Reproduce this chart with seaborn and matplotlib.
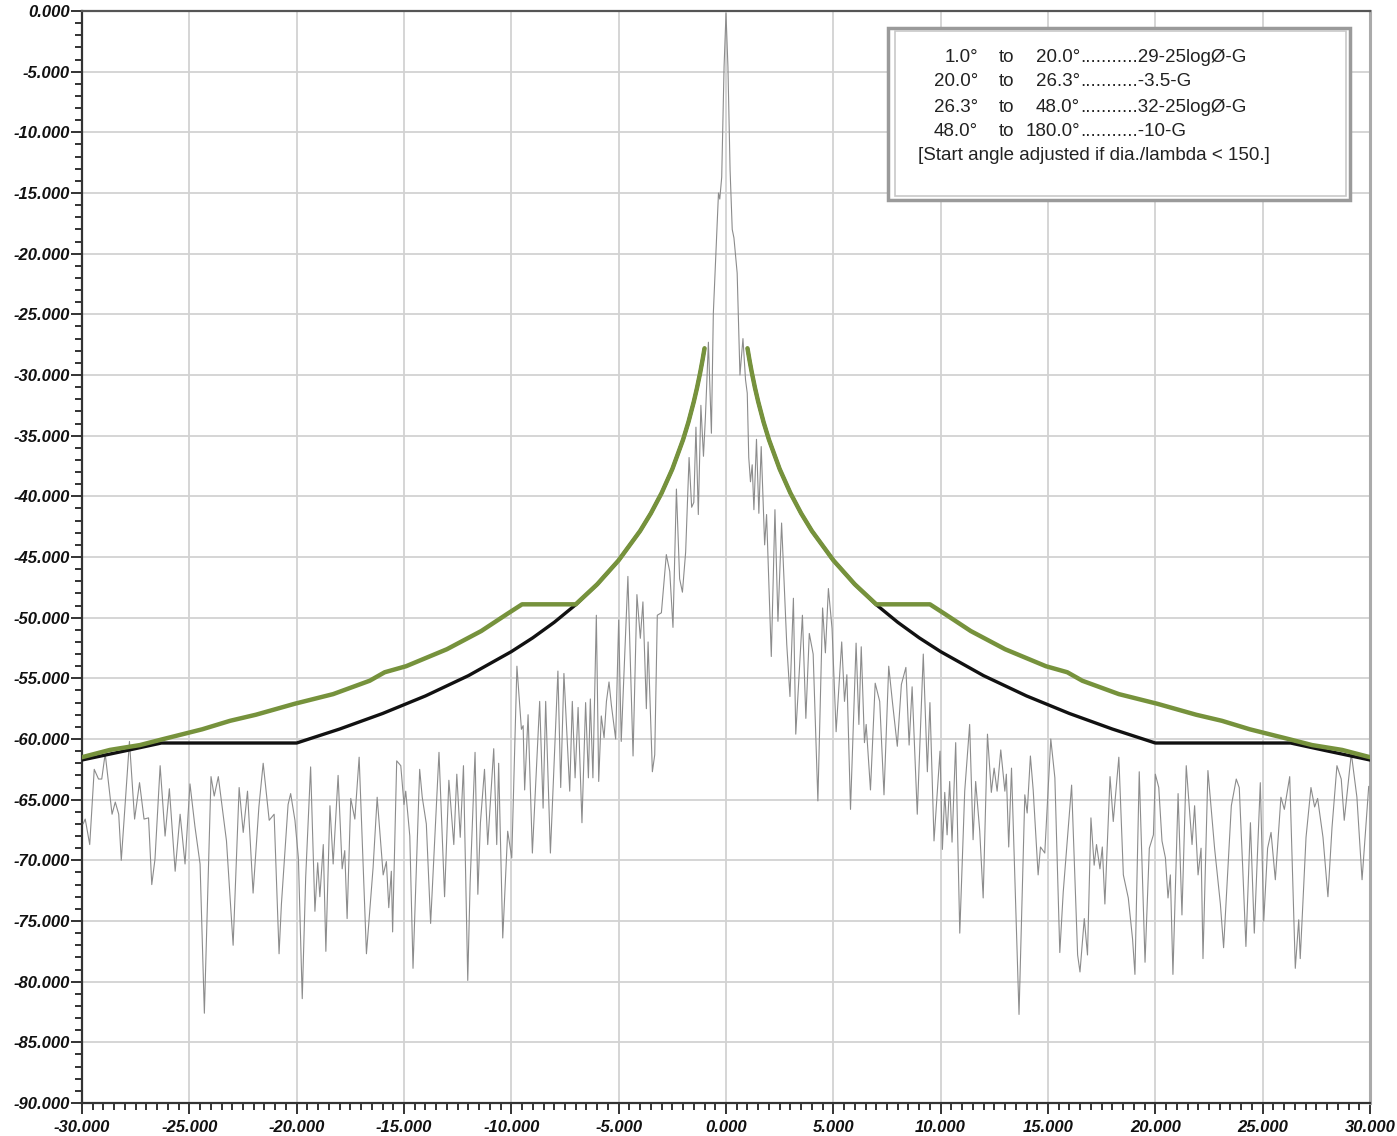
import matplotlib
matplotlib.use("Agg")
import matplotlib.pyplot as plt
from matplotlib.ticker import MultipleLocator, FuncFormatter
from matplotlib.patches import Rectangle
import seaborn as sns
import pandas as pd

# Measured antenna pattern: angle (deg) and relative level (dB)
trace_deg = [
    -29.95, -29.85, -29.64, -29.43, -29.23, -29.08, -28.92, -28.6, -28.45, -28.29,
    -28.17, -27.79, -27.55, -27.32, -27.11, -26.9, -26.75, -26.6, -26.36, -26.13,
    -25.93, -25.66, -25.43, -25.2, -24.97, -24.74, -24.5, -24.3, -23.99, -23.84,
    -23.65, -23.27, -22.96, -22.68, -22.49, -22.29, -22.03, -21.76, -21.56, -21.28,
    -21.05, -20.82, -20.71, -20.4, -20.28, -20.08,
    -19.92, -19.74, -19.58, -19.35, -19.15, -19.02, -18.92, -18.76, -18.64, -18.45,
    -18.30, -18.07, -17.88, -17.76, -17.65, -17.48, -17.29, -17.09, -16.75, -16.44,
    -16.25, -15.97, -15.82, -15.71, -15.59, -15.53, -15.34, -15.15, -15.0, -14.92,
    -14.73, -14.58, -14.27, -14.15, -13.96, -13.76, -13.37, -13.11, -12.91, -12.68,
    -12.54, -12.38, -12.23, -12.03, -11.92, -11.69, -11.56, -11.44, -11.25, -11.1,
    -10.82, -10.68, -10.59, -10.4, -10.17, -9.98,
    -9.74, -9.53, -9.45, -9.38, -9.22, -9.02, -8.68, -8.52, -8.40, -8.18,
    -7.83, -7.70, -7.55, -7.28, -7.16, -7.03, -6.89, -6.71, -6.54, -6.41,
    -6.32, -6.20, -6.04, -5.93, -5.81, -5.68, -5.57, -5.45, -5.34, -5.14,
    -5.0, -4.88, -4.57, -4.33, -4.15, -3.99, -3.87, -3.71, -3.63, -3.43,
    -3.32, -3.20, -3.01, -2.78, -2.62, -2.47, -2.31, -2.16, -2.03, -1.88,
    -1.72, -1.60, -1.50, -1.40, -1.29, -1.17, -1.05, -0.96, -0.82, -0.68,
    -0.59, -0.35, -0.29, -0.20, -0.09, 0.0, 0.09, 0.19, 0.29, 0.37,
    0.52, 0.65, 0.79, 0.91, 0.99,
    1.06, 1.14, 1.22, 1.30, 1.42, 1.53, 1.64, 1.80, 1.89, 2.11,
    2.28, 2.42, 2.59, 2.83, 2.98, 3.14, 3.25, 3.56, 3.72, 3.88,
    4.06, 4.28, 4.50, 4.63, 4.77, 4.94, 5.13, 5.39, 5.52, 5.63,
    5.80, 6.06, 6.19, 6.30, 6.45, 6.53, 6.73, 6.95, 7.16, 7.36,
    7.58, 7.75, 7.98, 8.17, 8.38, 8.53, 8.67, 8.91, 9.19, 9.38,
    9.50, 9.69, 9.97,
    10.08, 10.19, 10.30, 10.42, 10.53, 10.70, 10.89, 11.12, 11.35, 11.51,
    11.63, 11.82, 11.98, 12.18, 12.36, 12.49, 12.63, 12.80, 12.99, 13.06,
    13.17, 13.30, 13.65, 13.92, 14.03, 14.18, 14.31, 14.54, 14.65, 14.85,
    15.13, 15.32, 15.55, 15.71, 16.10, 16.38, 16.49, 16.69, 16.84, 17.0,
    17.15, 17.26, 17.42, 17.53, 17.65, 17.89, 18.04, 18.30, 18.51, 18.74,
    18.94, 19.05, 19.25, 19.52, 19.72, 19.91,
    20.0, 20.16, 20.31, 20.47, 20.59, 20.70, 20.82, 21.06, 21.24, 21.44,
    21.71, 21.83, 21.99, 22.13, 22.22, 22.45, 22.76, 23.03, 23.18, 23.54,
    23.77, 23.91, 24.07, 24.22, 24.43, 24.61, 24.89, 25.05, 25.23, 25.39,
    25.59, 25.85, 26.01, 26.26, 26.52, 26.68, 26.75, 27.02, 27.25, 27.42,
    27.56, 27.81, 28.04, 28.23, 28.46, 28.66, 28.80, 29.13, 29.39, 29.63,
    29.94,
]
trace_db = [
    -67.0, -66.6, -68.7, -62.5, -63.3, -63.3, -61.2, -66.2, -65.2, -66.2,
    -70.0, -60.2, -66.6, -63.6, -66.6, -66.5, -72.0, -69.9, -62.2, -68.0,
    -64.1, -70.9, -66.2, -70.3, -63.7, -67.2, -70.3, -82.6, -63.1, -64.7,
    -63.1, -68.4, -77.0, -64.0, -67.7, -64.3, -72.7, -65.6, -62.0, -66.7,
    -66.2, -77.7, -73.6, -65.4, -64.5, -66.7,
    -69.8, -81.4, -71.4, -62.3, -74.2, -70.2, -73.0, -68.7, -77.5, -65.5,
    -70.3, -63.0, -70.7, -69.2, -74.8, -64.9, -66.6, -61.5, -77.7, -70.6,
    -64.8, -71.2, -70.1, -73.9, -70.9, -75.9, -61.8, -62.2, -65.4, -64.3,
    -68.0, -78.9, -62.5, -64.8, -67.0, -75.2, -61.1, -73.0, -63.4, -68.7,
    -62.9, -68.1, -62.2, -79.9, -71.9, -61.1, -72.8, -66.9, -62.5, -68.7,
    -60.8, -68.7, -62.0, -76.4, -67.6, -69.8,
    -54.0, -59.2, -58.9, -64.2, -58.0, -69.4, -56.9, -65.7, -56.9, -69.4,
    -54.4, -64.0, -54.6, -64.3, -56.9, -63.2, -57.4, -66.9, -57.0, -63.2,
    -56.7, -63.2, -49.8, -63.5, -58.1, -59.9, -56.9, -55.3, -57.2, -60.0,
    -50.2, -60.2, -46.6, -61.4, -48.1, -51.7, -48.7, -57.5, -52.0, -62.7,
    -61.3, -49.8, -49.6, -44.8, -46.2, -50.8, -39.4, -46.8, -47.9, -44.6,
    -36.8, -40.9, -40.5, -34.3, -41.5, -32.5, -36.7, -33.5, -27.3, -34.8,
    -24.9, -15.0, -15.5, -13.7, -4.6, -0.2, -4.6, -13.1, -18.0, -18.7,
    -21.6, -30.0, -27.0, -30.4, -31.5,
    -36.8, -38.8, -37.4, -41.1, -35.3, -41.4, -35.9, -44.0, -41.5, -53.2,
    -41.1, -50.3, -42.2, -52.2, -56.5, -48.4, -59.6, -49.8, -58.3, -51.3,
    -53.0, -65.1, -49.2, -52.9, -47.6, -50.9, -59.4, -52.0, -56.9, -54.7,
    -65.8, -52.1, -58.8, -52.4, -60.3, -58.8, -64.2, -55.4, -56.9, -64.6,
    -54.0, -56.9, -60.6, -55.5, -54.1, -60.5, -55.7, -66.2, -53.0, -62.7,
    -57.0, -68.4, -61.0,
    -69.1, -64.4, -67.9, -63.5, -68.5, -60.3, -76.0, -64.3, -58.8, -68.3,
    -63.5, -67.6, -73.1, -59.6, -64.4, -62.4, -64.3, -60.9, -64.3, -62.9,
    -68.9, -62.4, -82.7, -64.6, -66.1, -61.4, -64.2, -71.2, -68.9, -69.4,
    -60.0, -63.2, -77.6, -72.6, -63.8, -77.8, -79.2, -74.8, -77.8, -66.5,
    -70.4, -68.7, -70.7, -68.9, -73.6, -63.1, -66.8, -61.5, -71.2, -73.1,
    -76.5, -79.4, -62.7, -78.4, -69.0, -67.9,
    -62.9, -64.0, -68.4, -69.8, -73.1, -71.2, -79.4, -64.5, -74.5, -62.2,
    -68.7, -65.5, -71.2, -69.0, -78.1, -62.6, -69.0, -73.6, -77.2, -65.5,
    -63.3, -64.0, -70.6, -77.1, -66.9, -76.0, -63.6, -75.0, -69.0, -67.7,
    -71.6, -64.8, -65.8, -63.1, -78.9, -74.9, -78.1, -68.1, -64.0, -65.6,
    -64.9, -68.1, -73.0, -67.3, -62.2, -63.3, -66.7, -61.2, -64.8, -71.6,
    -63.9,
]

# Regulatory envelope (29-25logθ-G ... -3.5-G ... 32-25logθ-G), off-axis angle in deg
mask_deg = [1.0, 1.1, 1.2, 1.35, 1.5, 1.75, 2.0, 2.5, 3.0, 3.5, 4.0, 5.0, 6.0,
            7.0, 8.0, 9.0, 10.0, 12.0, 14.0, 16.0, 18.0, 20.0, 26.3, 28.0, 30.0]
mask_db = [-27.8, -28.83, -29.78, -31.06, -32.2, -33.88, -35.33, -37.75, -39.73,
           -41.4, -42.85, -45.27, -47.25, -48.93, -50.38, -51.66, -52.8, -54.78,
           -56.45, -57.9, -59.18, -60.33, -60.33, -60.98, -61.73]

# Alternate envelope (green)
alt_deg = [1.0, 1.1, 1.2, 1.35, 1.5, 1.75, 2.0, 2.5, 3.0, 3.5, 4.0, 5.0, 6.0,
           7.0, 9.5, 10.2, 11.4, 13.0, 14.9, 15.9, 16.6, 18.3, 20.1, 21.9, 23.1,
           24.4, 26.2, 27.3, 28.7, 30.0]
alt_db = [-27.8, -28.83, -29.78, -31.06, -32.2, -33.88, -35.33, -37.75, -39.73,
          -41.4, -42.85, -45.27, -47.25, -48.9, -48.9, -49.7, -51.1, -52.6, -54.0,
          -54.5, -55.2, -56.3, -57.1, -58.0, -58.5, -59.2, -60.0, -60.5, -60.9, -61.5]

legend_rows = [
    ("1.0°", "20.0°", "...........29-25logØ-G"),
    ("20.0°", "26.3°", "...........-3.5-G"),
    ("26.3°", "48.0°", "...........32-25logØ-G"),
    ("48.0°", "180.0°", "...........-10-G"),
]
legend_note = "[Start angle adjusted if dia./lambda < 150.]"

W, H = 1397, 1136
sns.set_theme(style="white")
plt.rcParams["font.family"] = ["Liberation Sans", "DejaVu Sans"]

fig = plt.figure(figsize=(W / 100, H / 100), dpi=100)
fig.patch.set_facecolor("white")
ax = fig.add_axes([82 / W, 1 - 1103 / H, 1288 / W, 1092 / H])

trace_df = pd.DataFrame({"deg": trace_deg, "db": trace_db})
sns.lineplot(data=trace_df, x="deg", y="db", ax=ax, sort=False, estimator=None,
             color="#8c8c8c", linewidth=0.8, zorder=3)

black_col = "#111111"
green_col = "#76923c"
for sign in (-1, 1):
    m = pd.DataFrame({"deg": [sign * d for d in mask_deg], "db": mask_db})
    sns.lineplot(data=m, x="deg", y="db", ax=ax, sort=False, estimator=None,
                 color=black_col, linewidth=2.4, zorder=4)
for sign in (-1, 1):
    g = pd.DataFrame({"deg": [sign * d for d in alt_deg], "db": alt_db})
    sns.lineplot(data=g, x="deg", y="db", ax=ax, sort=False, estimator=None,
                 color=green_col, linewidth=3.2, zorder=5)

ax.set_xlim(-30, 30)
ax.set_ylim(-90, 0)
ax.set_xlabel("")
ax.set_ylabel("")

ax.xaxis.set_major_locator(MultipleLocator(5))
ax.xaxis.set_minor_locator(MultipleLocator(0.5))
ax.yaxis.set_major_locator(MultipleLocator(5))
ax.yaxis.set_minor_locator(MultipleLocator(1))
fmt = FuncFormatter(lambda v, p: f"{v:.3f}" if abs(v) > 1e-9 else "0.000")
ax.xaxis.set_major_formatter(fmt)
ax.yaxis.set_major_formatter(fmt)

ax.grid(True, which="major", color="#d2d2d2", linewidth=1.3, zorder=0)
ax.set_axisbelow(True)

ax.tick_params(axis="both", which="both", bottom=True, left=True, top=False, right=False)
ax.tick_params(axis="both", which="major", direction="out", length=8, width=1.4,
               color="#333333", labelsize=12)
ax.tick_params(axis="both", which="minor", direction="out", length=5, width=1.4,
               color="#333333")
ax.tick_params(axis="x", pad=4)
ax.tick_params(axis="y", pad=1)
for lab in ax.get_xticklabels() + ax.get_yticklabels():
    lab.set_fontweight("bold")
    lab.set_fontstyle("italic")
    lab.set_color("#111111")

for side in ("left", "bottom"):
    ax.spines[side].set_color("#333333")
    ax.spines[side].set_linewidth(1.6)
ax.spines["top"].set_color("#555555")
ax.spines["top"].set_linewidth(1.6)
ax.spines["right"].set_color("#aaaaaa")
ax.spines["right"].set_linewidth(2.2)

# Legend box with the envelope definition
def fx(x):
    return x / W

def fy(y):
    return 1 - y / H

box = Rectangle((fx(888), fy(200)), fx(1350) - fx(888), fy(28) - fy(200),
                transform=fig.transFigure, facecolor="white", edgecolor="#9a9a9a",
                linewidth=2.5, zorder=10)
fig.patches.append(box)
inner = Rectangle((fx(895), fy(196)), fx(1346) - fx(895), fy(31) - fy(196),
                  transform=fig.transFigure, facecolor="none", edgecolor="#c8c8c8",
                  linewidth=1.2, zorder=11)
fig.patches.append(inner)

row_y = [58, 82, 107, 132]
fs = 13.5
for (a, b, rule), yy in zip(legend_rows, row_y):
    fig.text(fx(978), fy(yy), a, ha="right", va="center", fontsize=fs, color="#222222", zorder=12)
    fig.text(fx(999), fy(yy), "to", ha="left", va="center", fontsize=fs, color="#222222", zorder=12)
    fig.text(fx(1080), fy(yy), b, ha="right", va="center", fontsize=fs, color="#222222", zorder=12)
    fig.text(fx(1080), fy(yy), rule, ha="left", va="center", fontsize=fs, color="#222222", zorder=12)
fig.text(fx(918), fy(156), legend_note, ha="left", va="center", fontsize=fs,
         color="#222222", zorder=12)

fig.savefig("out.png", dpi=100, facecolor="white")
